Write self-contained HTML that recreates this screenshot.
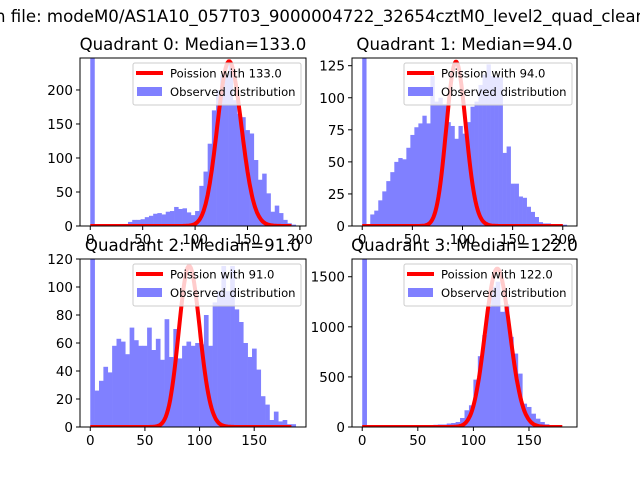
<!DOCTYPE html>
<html><head><meta charset="utf-8"><style>
body{margin:0;background:#fff}
svg{display:block;font-family:"DejaVu Sans","Liberation Sans",sans-serif}
</style></head><body>
<svg id="fig" width="640" height="480" viewBox="0 0 640 480" xmlns="http://www.w3.org/2000/svg">
<rect width="640" height="480" fill="#fff"/>
<text x="-5" y="22" font-size="16.6">n file: modeM0/AS1A10_057T03_9000004722_32654cztM0_level2_quad_clean</text>
</svg>
<script>
const titles=["Quadrant 0: Median=133.0","Quadrant 1: Median=94.0","Quadrant 2: Median=91.0","Quadrant 3: Median=122.0"];
const lambdas=[133,94,91,122];
const peaks=[242,128,115,1580];
const counts0=[600,1,2,1,2,2,2,3,3,6,9,9,10,13,15,18,19,17,21,22,28,25,26,20,16,22,59,80,121,170,200,222,222,239,185,165,160,141,136,97,68,77,48,21,30,19,9,4,2];
const counts1=[300,0,9,12,20,27,35,42,50,53,52,61,71,77,80,86,80,117,97,100,95,81,78,68,78,72,81,93,97,110,118,126,117,116,116,57,62,33,33,23,22,15,11,7,3,2,2,1,1,1,1];
const counts2=[200,26,33,43,39,58,63,61,52,71,62,58,58,71,55,63,48,77,50,70,49,58,61,58,60,59,80,58,89,97,115,97,115,84,75,60,50,56,41,22,16,5,11,4,5,2,2];
const counts3=[3000,0,0,0,0,0,0,0,0,0,0,0,0,0,5,20,22,25,25,35,40,50,90,167,217,473,707,917,1200,1400,1450,1150,1227,900,733,533,233,200,133,83,50,27,5,3,2,2];
const xTicks0=[0,50,100,150,200],xTicks1=[0,50,100,150,200],xTicks2=[0,50,100,150],xTicks3=[0,50,100,150];
const yTicks0=[0,50,100,150,200],yTicks1=[0,25,50,75,100,125],yTicks2=[0,20,40,60,80,100,120],yTicks3=[0,500,1000,1500];
const yMax=[247,131,120,1677];
const binW=4;
const allCounts=[counts0,counts1,counts2,counts3];
const allX=[xTicks0,xTicks1,xTicks2,xTicks3],allY=[yTicks0,yTicks1,yTicks2,yTicks3];
const boxes=[[80,58,306,226],[352,58,577,226],[80,259,306,427],[352,259,577,427]];
const NS="http://www.w3.org/2000/svg";
const svg=document.getElementById('fig');
function mk(t,a,p){const e=document.createElementNS(NS,t);for(const k in a)e.setAttribute(k,a[k]);(p||svg).appendChild(e);return e;}
function lgamma(n){let s=0;for(let i=2;i<=n;i++)s+=Math.log(i);return s;}
for(let q=0;q<4;q++){
 const [L,T,R,B]=boxes[q];const c=allCounts[q];
 const xmax=c.length*binW,m=xmax*0.05;
 const xs=v=>L+(v+m)/(xmax+2*m)*(R-L);
 const ys=v=>B-v/yMax[q]*(B-T);
 const g=mk('g',{});
 
 
 const clipId='clip'+q;
 const cp=mk('clipPath',{id:clipId},g);mk('rect',{x:L,y:T,width:R-L,height:B-T},cp);
 const bars=mk('g',{'clip-path':`url(#${clipId})`},g);
 c.forEach((v,i)=>{const x0=xs(i*binW),x1=xs((i+1)*binW);
  const r=mk('rect',{x:x0,y:ys(v),width:x1-x0+0.3,height:B-ys(v),fill:'#8080ff'},bars);
  
  });
 const lam=lambdas[q];let pts=[],pm=[],mx=0;
 for(let k=0;k<=xmax-4;k++){const p=Math.exp(-lam+k*Math.log(lam)-lgamma(k));pm.push(p);if(p>mx)mx=p;}
 pm.forEach((p,k)=>pts.push(xs(k).toFixed(1)+','+ys(p/mx*peaks[q]).toFixed(1)));
 const pl=mk('polyline',{points:pts.join(' '),fill:'none',stroke:'#ff0000','stroke-width':4,'stroke-linejoin':'round'},bars);
 
 
 const lg=mk('g',{},g);
 
 
 const lx=R-173,ly=T+5;
 mk('rect',{x:lx,y:ly,width:168,height:42,rx:2,fill:'#fff','fill-opacity':0.8,stroke:'#ccc','stroke-width':1},lg);
 mk('line',{x1:lx+3,y1:ly+10,x2:lx+30,y2:ly+10,stroke:'#ff0000','stroke-width':4},lg);
 mk('rect',{x:lx+4,y:ly+24,width:25,height:9,fill:'#8080ff'},lg);
 const t1=mk('text',{x:lx+37,y:ly+14.5,'font-size':11.6},lg);t1.textContent='Poission with '+lam.toFixed(1);
 const t2=mk('text',{x:lx+37,y:ly+33,'font-size':11.6},lg);t2.textContent='Observed distribution';
 mk('rect',{x:L,y:T,width:R-L,height:B-T,fill:'none',stroke:'#000','stroke-width':1},g);
 allX[q].forEach(v=>{const x=xs(v);mk('line',{x1:x,y1:B,x2:x,y2:B+4,stroke:'#000'},g);
  const t=mk('text',{x:x,y:B+18,'font-size':13.5,'text-anchor':'middle'},g);t.textContent=v;
  
  });
 allY[q].forEach(v=>{const y=ys(v);mk('line',{x1:L-4,y1:y,x2:L,y2:y,stroke:'#000'},g);
  const t=mk('text',{x:L-7,y:y+5,'font-size':13.5,'text-anchor':'end'},g);t.textContent=v;
  
  });
 const tt=mk('text',{x:(L+R)/2,y:T-8,'font-size':16.6,'text-anchor':'middle'},g);tt.textContent=titles[q];
 
 
}
</script>
</body></html>
